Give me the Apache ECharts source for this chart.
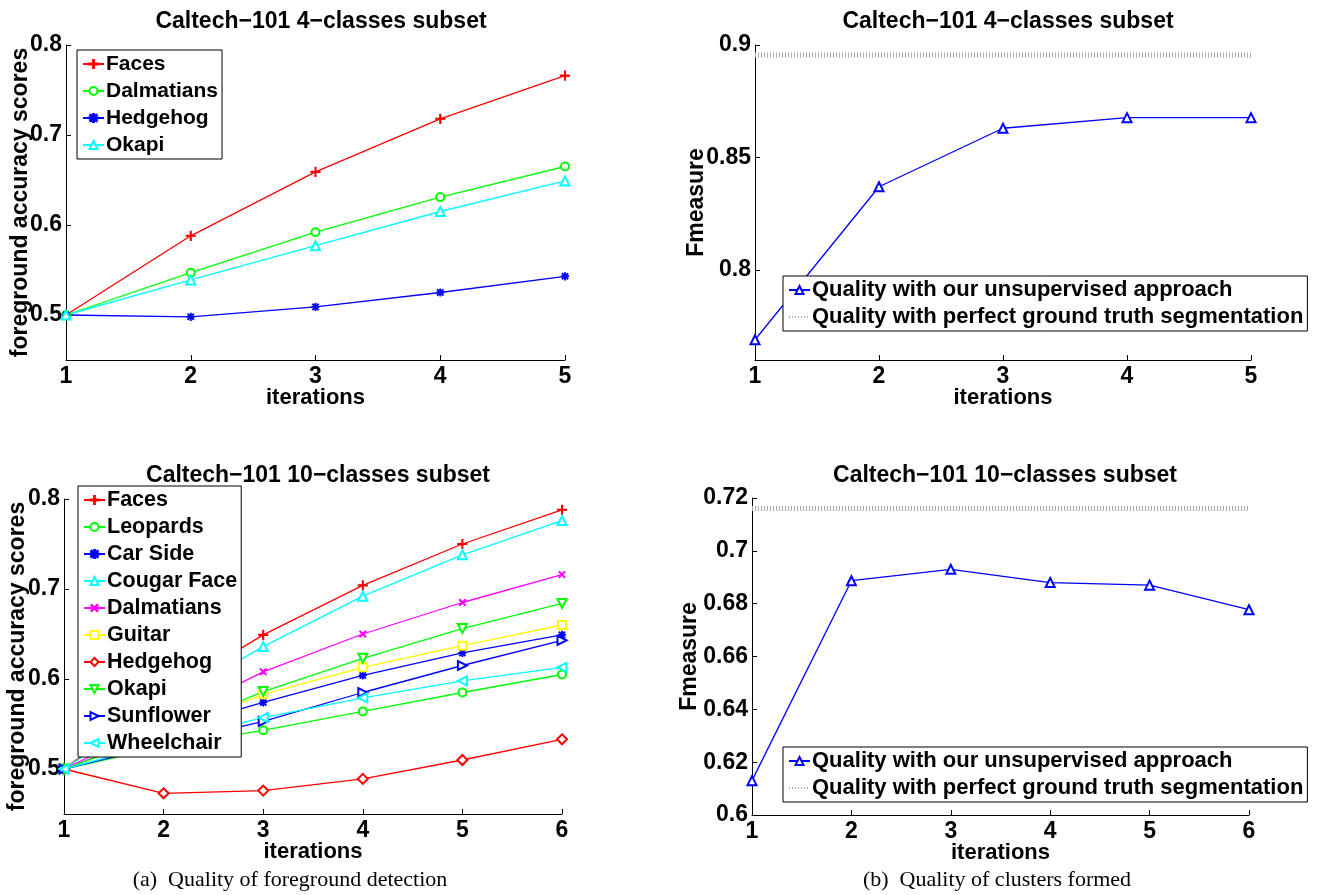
<!DOCTYPE html>
<html>
<head>
<meta charset="utf-8">
<script src="https://cdn.jsdelivr.net/npm/echarts@6/dist/echarts.min.js"></script>
<style>
html,body{margin:0;padding:0;background:#fff;}
#chart{width:1321px;height:895px;}
</style>
</head>
<body>
<div id="chart"></div>
<script>
// ---------- data ----------
const iter5 = [1, 2, 3, 4, 5];
const iter6 = [1, 2, 3, 4, 5, 6];

// (a) top: 4-classes foreground accuracy
const tlFaces      = [0.500, 0.588, 0.659, 0.718, 0.766];
const tlDalmatians = [0.500, 0.547, 0.592, 0.631, 0.665];
const tlHedgehog   = [0.500, 0.498, 0.509, 0.525, 0.543];
const tlOkapi      = [0.500, 0.539, 0.577, 0.615, 0.649];

// (b) top: 4-classes Fmeasure
const trQuality     = [0.769, 0.837, 0.863, 0.8677, 0.8677];
const trGroundTruth = [0.8956, 0.8956, 0.8956, 0.8956, 0.8956];

// (a) bottom: 10-classes foreground accuracy
const blFaces      = [0.500, 0.582, 0.649, 0.704, 0.750, 0.788];
const blLeopards   = [0.500, 0.525, 0.543, 0.564, 0.585, 0.605];
const blCarSide    = [0.500, 0.542, 0.574, 0.604, 0.629, 0.649];
const blCougarFace = [0.500, 0.573, 0.636, 0.692, 0.738, 0.776];
const blDalmatians = [0.500, 0.553, 0.608, 0.650, 0.685, 0.716];
const blGuitar     = [0.500, 0.540, 0.583, 0.613, 0.637, 0.660];
const blHedgehog   = [0.500, 0.473, 0.476, 0.489, 0.510, 0.533];
const blOkapi      = [0.500, 0.540, 0.586, 0.623, 0.656, 0.684];
const blSunflower  = [0.500, 0.527, 0.553, 0.585, 0.615, 0.643];
const blWheelchair = [0.500, 0.530, 0.557, 0.579, 0.598, 0.613];

// (b) bottom: 10-classes Fmeasure
const brQuality     = [0.613, 0.6887, 0.693, 0.688, 0.687, 0.6777];
const brGroundTruth = [0.716, 0.716, 0.716, 0.716, 0.716, 0.716];

// tick labels
const tlYTicks = [0.5, 0.6, 0.7, 0.8];
const trYTicks = [0.8, 0.85, 0.9];
const blYTicks = [0.5, 0.6, 0.7, 0.8];

const titles = ['Caltech\u2212101 4\u2212classes subset', 'Caltech\u2212101 4\u2212classes subset',
                'Caltech\u2212101 10\u2212classes subset', 'Caltech\u2212101 10\u2212classes subset'];
const captionA = '(a)  Quality of foreground detection';
const captionB = '(b)  Quality of clusters formed';
const nameQuality = 'Quality with our unsupervised approach';
const nameGT = 'Quality with perfect ground truth segmentation';

// ---------- styling helpers ----------
const FONT = 'Liberation Sans, Arial, sans-serif';
const PLUS = 'path://M9,0H11V9H20V11H11V20H9V11H0V9H9Z';
const STAR = 'path://M9,0H11V9H20V11H11V20H9V11H0V9H9Z M2.9,1.5L18.5,17.1L17.1,18.5L1.5,2.9Z M17.1,1.5L18.5,2.9L2.9,18.5L1.5,17.1Z';

function pts(xs, ys) { return xs.map((x, i) => [x, ys[i]]); }

function mk(name, key, idx, xs, ys, color, symbol, size, rot) {
  return {
    name: name + '|' + key, type: 'line', xAxisIndex: idx, yAxisIndex: idx,
    data: pts(xs, ys), clip: false,
    symbol: symbol, symbolSize: size, symbolRotate: rot || 0,
    lineStyle: { color: color, width: 1.3 },
    itemStyle: { color: color, borderColor: color, borderWidth: 1.2 },
    emphasis: { disabled: true }
  };
}
function gt(key, idx, xs, ys) {
  return {
    name: nameGT + '|' + key, type: 'line', xAxisIndex: idx, yAxisIndex: idx,
    data: pts(xs, ys), symbol: 'none', clip: false,
    lineStyle: { color: '#aaaaaa', width: 5, type: [1, 2] },
    itemStyle: { color: '#aaaaaa' },
    emphasis: { disabled: true }
  };
}

const grids = [
  { left: 66,  top: 45,  width: 499, height: 315 },
  { left: 755, top: 45,  width: 496, height: 315 },
  { left: 64,  top: 499, width: 498, height: 315 },
  { left: 752, top: 498, width: 497, height: 317 }
];

function xAx(idx, max, gap) {
  return {
    type: 'value', gridIndex: idx, min: 1, max: max, interval: 1,
    name: 'iterations', nameLocation: 'middle', nameGap: gap, nameMoveOverlap: false,
    nameTextStyle: { fontFamily: FONT, fontWeight: 'bold', fontSize: 22, color: '#000' },
    axisLine: { show: true, lineStyle: { color: '#000', width: 1 } },
    axisTick: { show: true, inside: true, length: 5, lineStyle: { color: '#000' } },
    axisLabel: { fontFamily: FONT, fontWeight: 'bold', fontSize: 23, color: '#000', margin: 5 },
    splitLine: { show: false }
  };
}
function yAx(idx, min, max, ticks, name, gap, interval) {
  const ax = {
    type: 'value', gridIndex: idx, min: min, max: max,
    name: name, nameLocation: 'middle', nameGap: gap, nameRotate: 90, nameMoveOverlap: false,
    nameTextStyle: { fontFamily: FONT, fontWeight: 'bold', fontSize: 23, color: '#000' },
    axisLine: { show: true, lineStyle: { color: '#000', width: 1 } },
    axisTick: { show: true, inside: true, length: 5, lineStyle: { color: '#000' } },
    axisLabel: { fontFamily: FONT, fontWeight: 'bold', fontSize: 23, color: '#000', margin: 4,
                 formatter: v => String(+v.toFixed(3)) },
    splitLine: { show: false }
  };
  if (ticks) {
    ax.axisLabel.customValues = ticks;
    ax.axisTick.customValues = ticks;
  } else {
    ax.interval = interval;
  }
  return ax;
}

function legend(names, left, top, fs) {
  return {
    orient: 'vertical', left: left, top: top,
    data: names.map(n => n.indexOf(nameGT) === 0
      ? { name: n, itemStyle: { opacity: 0 } }
      : { name: n }),
    backgroundColor: '#fff', borderColor: '#000', borderWidth: 1,
    padding: [3, 4, 3, 5], itemGap: 5, itemWidth: 21, itemHeight: 10,
    selectedMode: false,
    textStyle: { fontFamily: FONT, fontWeight: 'bold', fontSize: fs, color: '#000', lineHeight: 22, padding: [0, 0, 0, -3] },
    formatter: n => n.split('|')[0]
  };
}

const series = [
  mk('Faces', 'tl', 0, iter5, tlFaces, '#ff0000', PLUS, 9),
  mk('Dalmatians', 'tl', 0, iter5, tlDalmatians, '#00ff00', 'emptyCircle', 8),
  mk('Hedgehog', 'tl', 0, iter5, tlHedgehog, '#0000ff', STAR, 7),
  mk('Okapi', 'tl', 0, iter5, tlOkapi, '#00ffff', 'emptyTriangle', 9),

  gt('tr', 1, iter5, trGroundTruth),
  mk(nameQuality, 'tr', 1, iter5, trQuality, '#0000ff', 'emptyTriangle', 9),

  mk('Faces', 'bl', 2, iter6, blFaces, '#ff0000', PLUS, 9),
  mk('Leopards', 'bl', 2, iter6, blLeopards, '#00ff00', 'emptyCircle', 8),
  mk('Car Side', 'bl', 2, iter6, blCarSide, '#0000ff', STAR, 7),
  mk('Cougar Face', 'bl', 2, iter6, blCougarFace, '#00ffff', 'emptyTriangle', 9),
  mk('Dalmatians', 'bl', 2, iter6, blDalmatians, '#ff00ff', PLUS, 8, 45),
  mk('Guitar', 'bl', 2, iter6, blGuitar, '#ffff00', 'emptyRect', 8),
  mk('Hedgehog', 'bl', 2, iter6, blHedgehog, '#ff0000', 'emptyDiamond', 10),
  mk('Okapi', 'bl', 2, iter6, blOkapi, '#00ff00', 'emptyTriangle', 9, 180),
  mk('Sunflower', 'bl', 2, iter6, blSunflower, '#0000ff', 'emptyTriangle', 9, -90),
  mk('Wheelchair', 'bl', 2, iter6, blWheelchair, '#00ffff', 'emptyTriangle', 9, 90),

  gt('br', 3, iter6, brGroundTruth),
  mk(nameQuality, 'br', 3, iter6, brQuality, '#0000ff', 'emptyTriangle', 9)
];

const option = {
  animation: false,
  backgroundColor: '#fff',
  title: [
    { text: titles[0], left: 316, top: 5 },
    { text: titles[1], left: 1003, top: 5 },
    { text: titles[2], left: 313, top: 459 },
    { text: titles[3], left: 1000, top: 459 }
  ].map(t => Object.assign(t, { textAlign: 'center',
      textStyle: { fontFamily: FONT, fontWeight: 'bold', fontSize: 23, color: '#000' } })),
  grid: grids,
  xAxis: [xAx(0, 5, 27), xAx(1, 5, 27), xAx(2, 6, 27), xAx(3, 6, 27)],
  yAxis: [
    yAx(0, 0.45, 0.8, tlYTicks, 'foreground accuracy scores', 34),
    yAx(1, 0.76, 0.9, trYTicks, 'Fmeasure', 47),
    yAx(2, 0.45, 0.8, blYTicks, 'foreground accuracy scores', 35),
    yAx(3, 0.6, 0.72, null, 'Fmeasure', 51, 0.02)
  ],
  legend: [
    legend(['Faces|tl', 'Dalmatians|tl', 'Hedgehog|tl', 'Okapi|tl'], 77, 50, 21),
    legend([nameQuality + '|tr', nameGT + '|tr'], 783, 276, 22),
    legend(['Faces|bl', 'Leopards|bl', 'Car Side|bl', 'Cougar Face|bl', 'Dalmatians|bl', 'Guitar|bl',
            'Hedgehog|bl', 'Okapi|bl', 'Sunflower|bl', 'Wheelchair|bl'], 78, 486, 21.5),
    legend([nameQuality + '|br', nameGT + '|br'], 783, 747, 22)
  ],
  graphic: [
    { type: 'text', x: 290, y: 880, style: { text: captionA, font: '22px "Liberation Serif", serif', fill: '#000', align: 'center', verticalAlign: 'middle' } },
    { type: 'text', x: 997, y: 880, style: { text: captionB, font: '22px "Liberation Serif", serif', fill: '#000', align: 'center', verticalAlign: 'middle' } }
  ],
  series: series
};

const chart = echarts.init(document.getElementById('chart'), null, { renderer: 'canvas' });
chart.setOption(option);
</script>
</body>
</html>
